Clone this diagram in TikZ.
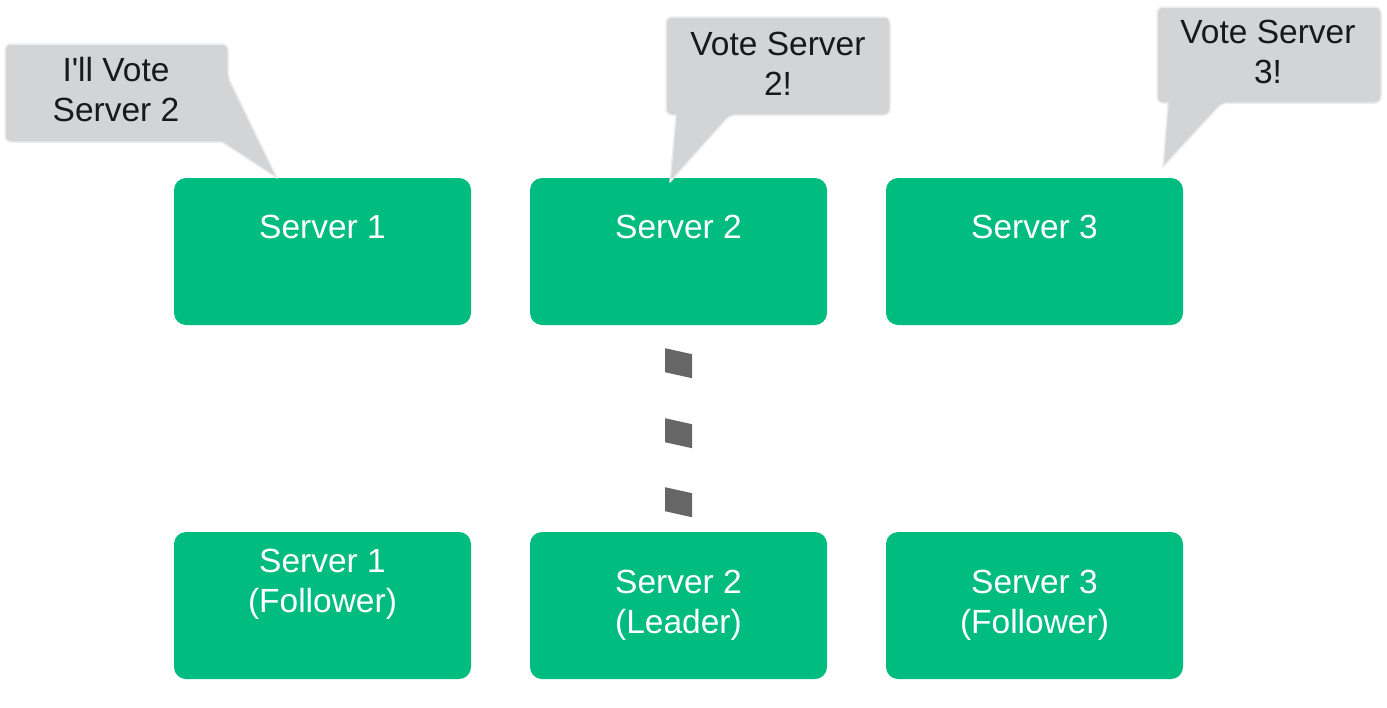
\documentclass[tikz,border=0pt]{standalone}
\usepackage{fontspec}
\setmainfont{Liberation Sans}
\usetikzlibrary{calc}
\definecolor{srvgreen}{RGB}{0,188,126}
\definecolor{calloutgray}{RGB}{211,212,214}
\definecolor{calloutedge}{RGB}{236,236,236}
\definecolor{dashgray}{RGB}{102,102,102}
\tikzset{
  srv/.style={rectangle, rounded corners=12pt, fill=srvgreen, minimum width=297pt, minimum height=147pt, inner sep=0pt},
  srvtext/.style={text=white, font=\fontsize{33.5}{40}\selectfont, align=center, anchor=base, inner sep=0pt},
  calltext/.style={text=black!90, font=\fontsize{33.5}{40}\selectfont, align=center, anchor=base, inner sep=0pt},
  callout/.style={fill=calloutgray, draw=calloutedge, line width=1.5pt, line join=round},
  dashblk/.style={fill=dashgray}
}
\begin{document}
\begin{tikzpicture}[x=1pt,y=-1pt]
\useasboundingbox (0,0) rectangle (1387,707);
% servers
\node[srv] (s1) at (322.5,251.5) {};
\node[srv] (s2) at (678.5,251.5) {};
\node[srv] (s3) at (1034.5,251.5) {};
\node[srv] (l1) at (322.5,605.5) {};
\node[srv] (l2) at (678.5,605.5) {};
\node[srv] (l3) at (1034.5,605.5) {};
\node[srvtext] (t1) at (322.5,238) {Server 1};
\node[srvtext] (t2) at (678.5,238) {Server 2};
\node[srvtext] (t3) at (1034.5,238) {Server 3};
\node[srvtext] (u1) at (322.5,612) {Server 1\\(Follower)};
\node[srvtext] (u2) at (678.5,633) {Server 2\\(Leader)};
\node[srvtext] (u3) at (1034.5,633) {Server 3\\(Follower)};
% dashed connector s2 -> l2
\foreach \d in {23,93,162}{
  \fill[dashblk] ($(s2.south)+(-13.5,\d)$) -- ++(27,6) -- ++(0,24) -- ++(-27,-6) -- cycle;
}
% callouts
\coordinate (tip1) at (277,178);
\coordinate (tip2) at (670,182);
\coordinate (tip3) at (1163,167);
\path[callout] (5,44) [rounded corners=6pt] -- (228,44) -- (228,77) [sharp corners] -- (tip1) -- (222,142) [rounded corners=6pt] -- (5,142) -- cycle;
\path[callout] (666,17) [rounded corners=6pt] -- (890,17) -- (890,115) -- (730,115) [sharp corners] -- (tip2) -- (676,115) [rounded corners=6pt] -- (666,115) -- cycle;
\path[callout] (1157,7) [rounded corners=6pt] -- (1381,7) -- (1381,103) -- (1222,103) [sharp corners] -- (tip3) -- (1168,103) [rounded corners=6pt] -- (1157,103) -- cycle;
\node[calltext] (c1) at (116,121) {I\textquotesingle ll Vote\\Server 2};
\node[calltext] (c2) at (778,95) {Vote Server\\2!};
\node[calltext] (c3) at (1268,83) {Vote Server\\3!};
\end{tikzpicture}
\end{document}
